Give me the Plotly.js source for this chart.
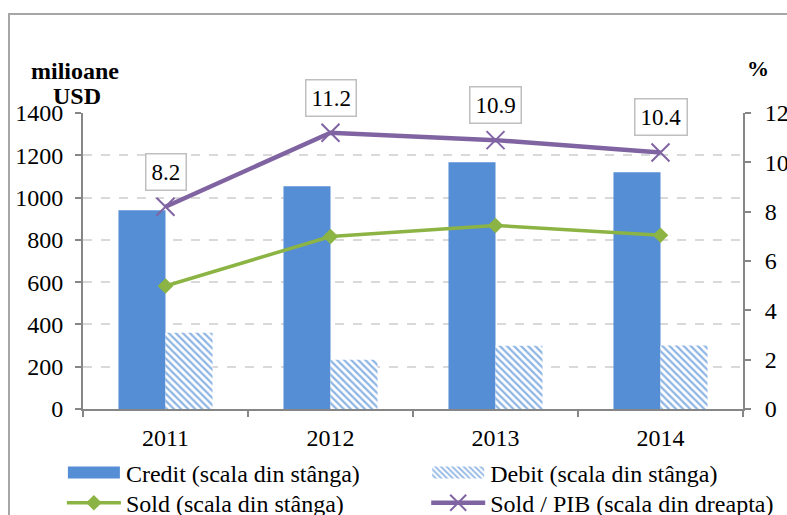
<!DOCTYPE html>
<html>
<head>
<meta charset="utf-8">
<script src="https://cdn.plot.ly/plotly-3.0.1.min.js"></script>
<style>
  html, body { margin: 0; padding: 0; overflow: hidden; background: #fff; }
  #frame { position: absolute; left: 8px; top: 13px; width: 900px; height: 600px;
           border: 2px solid #a6a6a6; pointer-events: none; }
</style>
</head>
<body>
<div id="grafic"></div>
<div id="frame"></div>
<script>
const ani = ["2011", "2012", "2013", "2014"];
const credit = [940, 1053, 1167, 1120];
const debit = [361, 233, 299, 300];
const sold = [582, 816, 868, 822];
const soldPib = [8.2, 11.2, 10.9, 10.4];

const fontSerif = "'Liberation Serif', 'Times New Roman', serif";
const gri = "#868686";

const traces = [
    {
        type: "bar", x: ani, y: credit,
        name: "Credit (scala din stânga)",
        marker: { color: "#558ED5" },
        legend: "legend"
    },
    {
        type: "bar", x: ani, y: debit,
        name: "Debit (scala din stânga)",
        marker: {
            color: "#ffffff",
            pattern: { shape: "\\", fgcolor: "#8DB4E3", bgcolor: "#ffffff", size: 5, solidity: 0.45 },
            line: { width: 0 }
        },
        legend: "legend2"
    },
    {
        type: "scatter", mode: "lines+markers", x: ani, y: sold,
        name: "Sold (scala din stânga)",
        line: { color: "#8CB444", width: 3.5 },
        marker: { symbol: "diamond", size: 12, color: "#8CB444" },
        legend: "legend3"
    },
    {
        type: "scatter", mode: "lines+markers", x: ani, y: soldPib, yaxis: "y2",
        name: "Sold / PIB (scala din dreapta)",
        line: { color: "#8064A2", width: 4.5 },
        marker: { symbol: "x-thin-open", size: 18, color: "#8064A2", line: { color: "#8064A2", width: 2 } },
        legend: "legend4"
    }
];

const etichete = soldPib.map((v, i) => ({
    x: i, y: v, xref: "x", yref: "y2",
    text: v.toFixed(1), showarrow: false, yshift: 35,
    font: { family: fontSerif, size: 23, color: "#000" },
    bgcolor: "#fff", bordercolor: "#bfbfbf", borderwidth: 1.5, borderpad: 5
}));

const legendBase = {
    orientation: "h", xanchor: "left", yanchor: "middle", itemwidth: 54,
    bgcolor: "rgba(0,0,0,0)",
    font: { family: fontSerif, size: 24, color: "#000" }
};

const layout = {
    width: 800, height: 560,
    margin: { l: 83, r: 57, t: 113, b: 151 },
    paper_bgcolor: "#fff", plot_bgcolor: "#fff",
    font: { family: fontSerif, size: 24, color: "#000" },
    bargap: 0.43, bargroupgap: 0,
    barmode: "group",
    showlegend: true,
    legend: { ...legendBase, x: -0.032, y: -0.216 },
    legend2: { ...legendBase, x: 0.52, y: -0.216 },
    legend3: { ...legendBase, x: -0.032, y: -0.318 },
    legend4: { ...legendBase, x: 0.52, y: -0.318 },
    xaxis: {
        type: "category", range: [-0.5, 3.5], showline: true, linecolor: gri, linewidth: 2,
        ticks: "outside", tickson: "boundaries", ticklen: 6, tickcolor: gri, tickwidth: 2,
        tickfont: { family: fontSerif, size: 24 }, ticklabelstandoff: 6
    },
    yaxis: {
        range: [0, 1400], dtick: 200, showline: true, linecolor: gri, linewidth: 2,
        ticks: "outside", ticklen: 6, tickcolor: gri, tickwidth: 2,
        showgrid: true, gridcolor: "#d9d9d9", gridwidth: 2, griddash: "dash", zeroline: false,
        tickfont: { family: fontSerif, size: 24 }, ticklabelstandoff: 7
    },
    yaxis2: {
        range: [0, 12], dtick: 2, overlaying: "y", side: "right",
        showline: true, linecolor: gri, linewidth: 2,
        ticks: "outside", ticklen: 6, tickcolor: gri, tickwidth: 2,
        showgrid: false, zeroline: false,
        tickfont: { family: fontSerif, size: 24 }, ticklabelstandoff: 9
    },
    annotations: [
        ...etichete,
        {
            text: "<b>milioane</b>", xref: "paper", yref: "paper",
            x: -0.012, y: 1.142, xanchor: "center", yanchor: "middle", showarrow: false,
            font: { family: fontSerif, size: 24, color: "#000" }
        },
        {
            text: "<b>USD</b>", xref: "paper", yref: "paper",
            x: -0.009, y: 1.057, xanchor: "center", yanchor: "middle", showarrow: false,
            font: { family: fontSerif, size: 24, color: "#000" }
        },
        {
            text: "<b>%</b>", xref: "paper", yref: "paper",
            x: 1.023, y: 1.152, xanchor: "center", yanchor: "middle", showarrow: false,
            font: { family: fontSerif, size: 22, color: "#000" }
        }
    ]
};

function lungesteSwatch() {
    // swatch-uri late pentru bare, ca in original
    document.querySelectorAll("g.legend .legendpoints path, g.legend2 .legendpoints path")
        .forEach(p => p.setAttribute("d", "M26,6H-26V-6H26Z"));
}

Plotly.newPlot("grafic", traces, layout, { displayModeBar: false, staticPlot: true }).then(() => {
    lungesteSwatch();
    setTimeout(lungesteSwatch, 50);
});
</script>
</body>
</html>
